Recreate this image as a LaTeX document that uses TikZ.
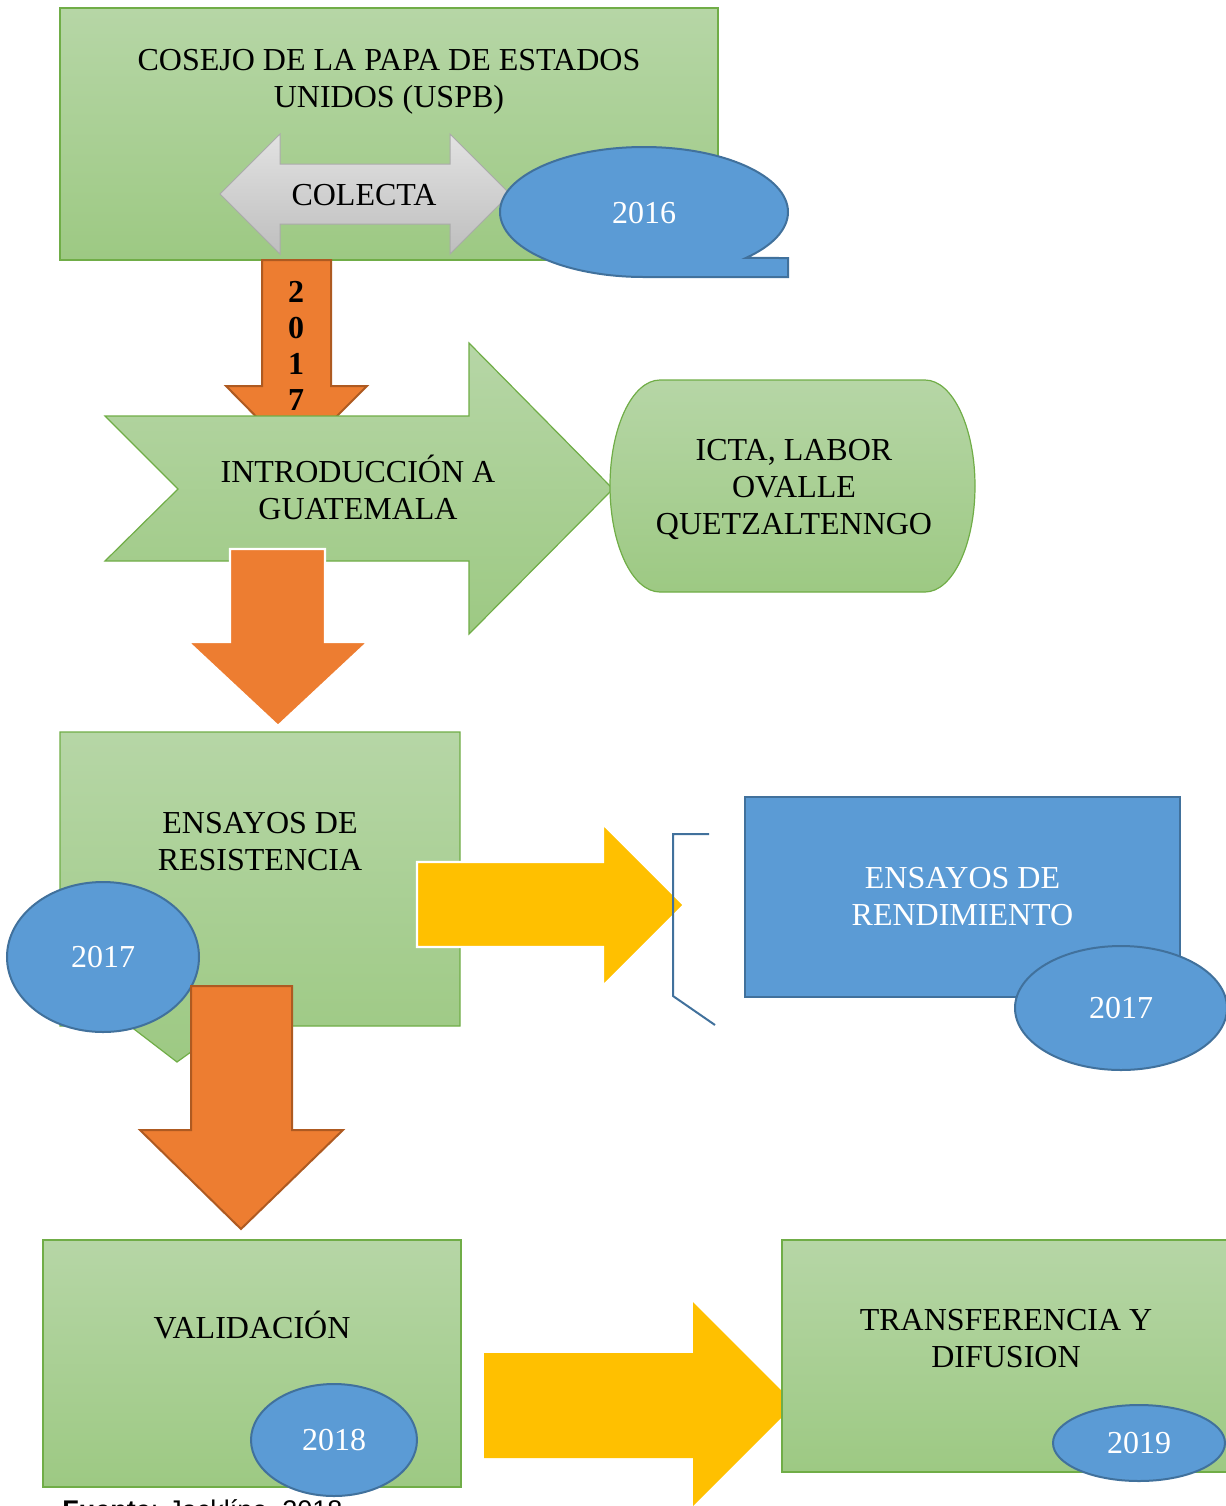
\documentclass[tikz,border=0pt]{standalone}
\usepackage{fontspec}
\setmainfont{Liberation Serif}
\newfontfamily\arialfont{Liberation Sans}
\usepackage{tikz}
\usetikzlibrary{positioning}
\usetikzlibrary{shapes.geometric}
\usepackage{xcolor}

\definecolor{greentop}{RGB}{182,214,166}
\definecolor{greenbottom}{RGB}{157,201,131}
\definecolor{greenline}{RGB}{112,173,71}
\definecolor{bluefill}{RGB}{91,155,213}
\definecolor{blueline}{RGB}{65,113,156}
\definecolor{orangefill}{RGB}{237,125,49}
\definecolor{orangeline}{RGB}{174,90,33}
\definecolor{yellowfill}{RGB}{255,192,0}
\definecolor{graytop}{RGB}{226,226,226}
\definecolor{graybottom}{RGB}{190,190,190}
\definecolor{grayline}{RGB}{170,170,170}

\begin{document}
\begin{tikzpicture}[x=0.5pt,y=-0.5pt,
  greenbox/.style={draw=greenline,line width=0.6pt,top color=greentop,bottom color=greenbottom},
  bluebox/.style={draw=blueline,line width=1pt,fill=bluefill},
  orangearrow/.style={draw=orangeline,line width=1pt,fill=orangefill},
  yellowarrow/.style={fill=yellowfill,draw=none},
  graybox/.style={draw=grayline,line width=0.5pt,top color=graytop,bottom color=graybottom},
  txt/.style={font=\fontsize{16}{18.5}\selectfont,align=center,inner sep=0pt},
  yeartxt/.style={txt,text=white}]
\useasboundingbox (0,0) rectangle (1226,1506);

% consejo + colecta
\node [greenbox,minimum width=329pt,minimum height=126pt] (consejo) at (389,134) {};
\node [txt,below=21pt,at=(consejo.north)] (consejotxt) {COSEJO DE LA PAPA DE ESTADOS\\UNIDOS (USPB)};
\draw [graybox] (220,194) -- (280,134) -- (280,164) -- (450,164) -- (450,134) -- (510,194)
  -- (450,254) -- (450,224) -- (280,224) -- (280,254) -- cycle;
\node [txt] (colecta) at (364,195) {COLECTA};
\draw [bluebox] (644,277) arc[start angle=90,end angle=405,x radius=144,y radius=65]
  -- (788,258) -- (788,277) -- cycle;
\node [yeartxt] (y2016) at (644,213) {2016};

% 2017 arrow
\draw [orangearrow] (262,260) -- (331,260) -- (331,386) -- (367,386) -- (296,457) -- (226,386) -- (262,386) -- cycle;
\node [txt,font=\fontsize{16}{18}\selectfont\bfseries] (anio) at (296,346) {2\\0\\1\\7};

% introduccion + icta
\draw [greenbox] (105,416) -- (469,416) -- (469,343) -- (613,489) -- (469,634) -- (469,561) -- (105,561) -- (178,489) -- cycle;
\node [txt] (intro) at (358,487) {INTRODUCCIÓN A\\GUATEMALA};
\draw [greenbox] (660,380) -- (925,380) arc[start angle=270,end angle=450,x radius=50,y radius=106]
  -- (660,592) arc[start angle=90,end angle=270,x radius=50,y radius=106] -- cycle;
\node [txt] (icta) at (794,489) {ICTA, LABOR\\OVALLE\\QUETZALTENNGO};

\draw [orangearrow,draw=white,line width=1.2pt] (230,549) -- (325,549) -- (325,642) -- (368,642) -- (278,726) -- (188,642) -- (230,642) -- cycle;

% resistencia
\draw [greenbox] (60,732) -- (460,732) -- (460,1026) -- (227,1026) -- (177,1062) -- (130,1026) -- (60,1026) -- cycle;
\node [txt] (resist) at (260,842) {ENSAYOS DE\\RESISTENCIA};
\draw [yellowarrow,draw=white,line width=1.2pt] (417,862) -- (603,862) -- (603,824) -- (684,905) -- (603,986) -- (603,947) -- (417,947) -- cycle;
\node [bluebox,ellipse,minimum width=96pt,minimum height=75pt,yeartxt] (y2017a) at (103,957) {2017};
\draw [orangearrow] (191,986) -- (292,986) -- (292,1130) -- (343,1130) -- (241,1229) -- (140,1130) -- (191,1130) -- cycle;

% rendimiento
\draw [blueline,line width=1pt] (709,834) -- (673,834) -- (673,996) -- (715,1025);
\node [bluebox,minimum width=217.5pt,minimum height=100pt,yeartxt] (rendim) at (962.5,897) {ENSAYOS DE\\RENDIMIENTO};
\node [bluebox,ellipse,minimum width=106pt,minimum height=62pt,yeartxt] (y2017b) at (1121,1008) {2017};

% validacion + transferencia
\node [greenbox,minimum width=209pt,minimum height=123.5pt] (valid) at (252,1363.5) {};
\node [txt,below=35.5pt,at=(valid.north)] (validtxt) {VALIDACIÓN};
\node [bluebox,ellipse,minimum width=83pt,minimum height=56pt,yeartxt] (y2018) at (334,1440) {2018};
\fill [yellowarrow] (484,1353) -- (693,1353) -- (693,1302) -- (795,1404) -- (693,1506) -- (693,1458) -- (484,1458) -- cycle;
\node [greenbox,minimum width=224pt,minimum height=116pt] (transf) at (1006,1356) {};
\node [txt,below=34.5pt,at=(transf.north)] (transftxt) {TRANSFERENCIA Y\\DIFUSION};
\node [bluebox,ellipse,minimum width=86pt,minimum height=38pt,yeartxt] (y2019) at (1139,1443) {2019};

\node [anchor=base west,inner sep=0pt,font=\arialfont\fontsize{13.5}{16}\selectfont] (fuente) at (62,1519) {\textbf{Fuente}: Jacklíne, 2018};
\end{tikzpicture}
\end{document}
